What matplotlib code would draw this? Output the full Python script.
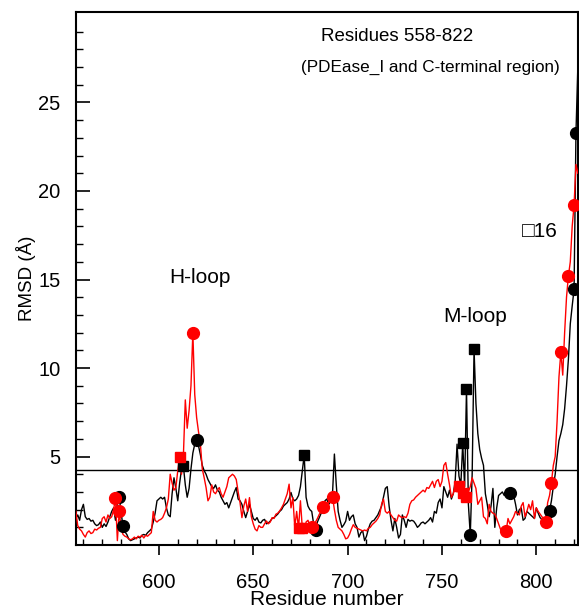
import numpy as np
import matplotlib
matplotlib.use("Agg")
import matplotlib.pyplot as plt

plt.rcParams['font.family'] = ['Liberation Sans', 'DejaVu Sans']

residue_start = 556
black_rmsd = [
    1.5, 1.7, 1.4, 2.0, 2.3, 1.6, 1.45, 1.5, 1.35, 1.4,      # 556-565
    1.2, 1.1, 1.15, 1.3, 1.0, 1.2, 1.05, 1.3, 1.6, 1.9,      # 566-575
    2.1, 1.4, 2.4, 2.72, 1.8, 1.06, 0.75, 0.6, 0.35, 0.25,   # 576-585
    0.3, 0.35, 0.4, 0.45, 0.4, 0.55, 0.6, 0.55, 0.7, 0.8,    # 586-595
    0.9, 1.3, 1.8, 2.5, 2.6, 2.7, 2.6, 2.7, 2.1, 1.7,        # 596-605
    1.6, 2.9, 3.8, 3.2, 2.5, 3.5, 4.3, 4.44, 3.4, 2.7,       # 606-615
    3.2, 4.3, 5.2, 5.7, 5.93, 5.6, 5.1, 4.5, 4.2, 4.0,       # 616-625
    3.7, 3.5, 3.3, 3.2, 3.4, 3.1, 3.0, 2.7, 2.5, 2.3,        # 626-635
    2.4, 2.1, 2.4, 2.7, 3.0, 3.25, 2.6, 2.5, 2.3, 1.9,       # 636-645
    1.55, 1.9, 2.3, 1.9, 1.5, 1.4, 1.55, 1.3, 1.25, 1.4,     # 646-655
    1.45, 1.2, 1.25, 1.35, 1.5, 1.55, 1.65, 1.75, 1.9, 2.0,  # 656-665
    2.2, 2.3, 2.4, 2.6, 2.97, 2.6, 2.5, 2.6, 2.8, 3.3,       # 666-675
    4.2, 5.08, 2.7, 2.2, 2.0, 1.9, 1.2, 0.87, 1.3, 1.55,     # 676-685
    1.8, 2.1, 2.5, 2.6, 2.3, 2.5, 2.9, 5.14, 3.4, 1.9,       # 686-695
    1.4, 1.0, 1.15, 1.35, 1.9, 1.4, 1.6, 1.7, 1.2, 1.0,      # 696-705
    0.45, 0.7, 0.8, 0.25, 0.5, 0.9, 1.2, 1.35, 1.4, 1.55,    # 706-715
    1.7, 1.95, 2.2, 2.7, 3.2, 3.3, 2.2, 1.4, 0.8, 1.5,       # 716-725
    1.0, 0.4, 0.6, 1.7, 1.4, 1.0, 1.45, 1.35, 1.4, 1.35,     # 726-735
    1.2, 1.0, 1.1, 1.25, 1.3, 1.2, 1.3, 1.4, 1.55, 1.3,      # 736-745
    1.9, 1.8, 2.4, 2.6, 2.1, 3.3, 3.0, 2.7, 3.1, 2.6,        # 746-755
    2.9, 3.6, 5.7, 3.9, 3.4, 5.74, 3.3, 8.82, 2.3, 0.57,     # 756-765
    4.0, 11.05, 8.0, 6.3, 5.4, 4.9, 4.5, 2.9, 2.3, 1.6,      # 766-775
    2.2, 3.2, 1.0, 2.1, 2.8, 2.9, 3.0, 2.8, 2.9, 3.0,        # 776-785
    2.96, 2.9, 2.8, 2.3, 1.7, 2.0, 2.1, 1.4, 1.5, 1.9,       # 786-795
    1.8, 1.7, 1.6, 1.5, 2.1, 1.8, 1.55, 1.45, 1.35, 1.5,     # 796-805
    1.75, 1.93, 2.5, 3.3, 4.0, 5.0, 5.9, 6.3, 6.8, 7.7,      # 806-815
    9.0, 10.5, 12.5, 13.5, 14.44, 23.27, 27.0,               # 816-822
]
red_rmsd = [
    1.9, 1.1, 0.9, 0.8, 0.6, 0.45, 0.7, 0.8, 0.65, 0.7,      # 556-565
    0.9, 0.85, 0.95, 1.0, 1.5, 1.6, 1.3, 1.7, 1.5, 1.6,      # 566-575
    2.0, 2.65, 0.25, 1.93, 0.9, 0.6, 0.5, 0.45, 0.35, 0.3,   # 576-585
    0.35, 0.45, 0.35, 0.5, 0.45, 0.55, 0.4, 0.55, 0.5, 0.6,  # 586-595
    0.7, 1.9, 1.4, 1.3, 1.4, 1.45, 1.55, 1.8, 2.1, 2.6,      # 596-605
    4.0, 3.5, 3.1, 3.25, 4.2, 4.95, 4.0, 5.1, 8.2, 6.6,      # 606-615
    7.6, 9.0, 12.0, 8.5, 7.2, 6.4, 5.7, 4.3, 3.8, 3.25,      # 616-625
    2.5, 2.7, 3.4, 3.0, 2.9, 3.1, 3.25, 2.9, 2.7, 3.0,       # 626-635
    3.3, 3.8, 3.9, 4.0, 3.9, 3.7, 3.0, 2.4, 1.55, 2.2,       # 636-645
    2.6, 1.9, 2.68, 1.6, 1.2, 0.9, 0.8, 1.1, 1.0, 1.0,       # 646-655
    1.2, 1.36, 1.2, 1.3, 1.55, 1.5, 1.74, 1.8, 1.93, 2.1,    # 656-665
    2.3, 2.6, 2.9, 3.44, 2.1, 2.68, 1.0, 1.9, 0.95, 2.5,     # 666-675
    0.95, 0.8, 1.3, 1.4, 1.1, 1.02, 0.6, 1.3, 1.5, 1.74,     # 676-685
    1.9, 2.15, 2.0, 1.9, 2.5, 2.4, 2.72, 2.0, 1.4, 1.0,      # 686-695
    0.9, 0.8, 0.6, 0.35, 0.4, 0.6, 0.9, 1.15, 1.0, 0.95,     # 696-705
    0.9, 0.85, 0.8, 0.85, 0.8, 0.95, 1.0, 1.15, 1.25, 1.35,  # 706-715
    1.5, 1.7, 2.3, 2.6, 1.9, 1.8, 1.9, 1.7, 1.55, 1.4,       # 716-725
    1.35, 1.7, 1.6, 1.55, 1.6, 1.55, 1.8, 2.3, 2.5, 2.55,    # 726-735
    2.7, 2.8, 2.9, 3.0, 3.1, 3.0, 3.25, 3.2, 3.4, 3.6,       # 736-745
    3.25, 3.6, 3.7, 3.3, 3.6, 4.5, 4.66, 4.0, 3.4, 2.7,      # 746-755
    2.9, 3.4, 3.0, 3.34, 3.1, 2.96, 2.6, 2.74, 3.0, 3.3,     # 756-765
    3.8, 3.5, 3.2, 2.3, 2.5, 2.7, 1.6, 1.5, 1.2, 2.3,        # 766-775
    1.9, 1.8, 1.75, 1.5, 1.2, 0.9, 0.8, 0.7, 0.79, 1.5,      # 776-785
    1.2, 1.4, 1.6, 1.9, 1.8, 1.7, 2.2, 2.4, 1.6, 1.9,        # 786-795
    2.3, 2.0, 2.5, 1.5, 2.1, 1.9, 1.75, 1.6, 1.45, 1.3,      # 796-805
    2.4, 2.8, 3.53, 4.5, 5.0, 7.0, 9.5, 10.9, 9.6, 12.0,     # 806-815
    14.0, 15.2, 16.0, 18.0, 19.2, 21.5, 21.0,                # 816-822
]

black_circle_res = [579, 581, 620, 683, 765, 786, 807, 820, 821]
black_square_res = [613, 677, 761, 763, 767]
red_circle_res = [577, 579, 618, 681, 687, 692, 784, 805, 808, 813, 817, 820]
red_square_res = [611, 674, 676, 759, 761, 763]

threshold = 4.25
x_ticks = [600, 650, 700, 750, 800]
y_ticks = [5, 10, 15, 20, 25]

residues = np.arange(residue_start, residue_start + len(black_rmsd))
black = np.array(black_rmsd)
red = np.array(red_rmsd)

def vals(arr, res_list):
    idx = np.array(res_list) - residue_start
    return np.array(res_list), arr[idx]

fig = plt.figure(figsize=(5.79, 6.09), dpi=100)
ax = fig.add_axes([0.131, 0.105, 0.867, 0.875])

ax.plot(residues, black, color='black', lw=1.0, zorder=2)
ax.plot(residues, red, color='red', lw=1.0, zorder=3)

ms = 8.5
x, y = vals(black, black_circle_res)
ax.plot(x, y, 'o', color='black', ms=ms, zorder=4)
x, y = vals(black, black_square_res)
ax.plot(x, y, 's', color='black', ms=7.5, zorder=4)
x, y = vals(red, red_circle_res)
ax.plot(x, y, 'o', color='red', ms=ms, zorder=5)
x, y = vals(red, red_square_res)
ax.plot(x, y, 's', color='red', ms=7.5, zorder=5)

ax.axhline(threshold, color='black', lw=1.0, zorder=1)

ax.set_xlim(556, 822)
ax.set_ylim(0, 30.1)
ax.set_xticks(x_ticks)
ax.set_xticks(np.arange(560, 822, 10), minor=True)
ax.set_yticks(y_ticks)
ax.set_yticks(np.arange(1, 30, 1), minor=True)

ax.tick_params(axis='x', which='major', direction='out', length=7, width=1.2, labelsize=14.5, pad=13)
ax.tick_params(axis='x', which='minor', direction='in', length=4, width=1.0)
ax.tick_params(axis='y', which='major', direction='in', length=10, width=1.2, labelsize=14.5, pad=11)
ax.tick_params(axis='y', which='minor', direction='in', length=5, width=1.0)
for s in ax.spines.values():
    s.set_linewidth(1.5)

ax.set_xlabel('Residue number', fontsize=15, labelpad=-1)
ax.set_ylabel('RMSD (Å)', fontsize=13.5, labelpad=2)

ax.text(726, 28.7, 'Residues 558-822', ha='center', va='center', fontsize=13.5)
ax.text(744, 27.0, '(PDEase_I and C-terminal region)', ha='center', va='center', fontsize=12.3)
ax.text(621.5, 15.1, 'H-loop', ha='center', va='center', fontsize=15)
ax.text(767.5, 12.9, 'M-loop', ha='center', va='center', fontsize=15)
ax.text(802, 17.7, '\u25a116', ha='center', va='center', fontsize=15)

fig.savefig('out.png', dpi=100)
